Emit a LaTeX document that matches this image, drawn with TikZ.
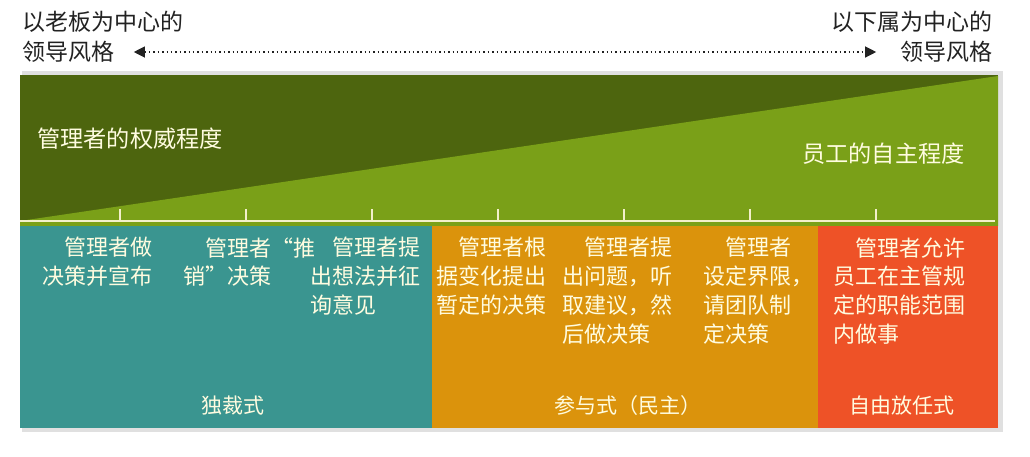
\documentclass[tikz,border=0pt]{standalone}
\usepackage{fontspec}
\newfontfamily\cjk{Noto Sans CJK SC}
\usetikzlibrary{arrows.meta,positioning}
\definecolor{DarkGreen}{HTML}{4D650E}
\definecolor{LightGreen}{HTML}{7AA018}
\definecolor{Teal}{HTML}{3A9590}
\definecolor{Orange}{HTML}{DB930C}
\definecolor{Red}{HTML}{EE5227}
\definecolor{Cream}{HTML}{FFFCE0}
\definecolor{Rule}{HTML}{F3F0CA}
\definecolor{Ink}{HTML}{222222}

\begin{document}
\begin{tikzpicture}[x=0.5pt,y=-0.5pt,
    title/.style={inner sep=0pt,text=Ink,font=\cjk\fontsize{11.5}{14}\selectfont},
    bandtext/.style={inner sep=0pt,text=Cream,font=\cjk\fontsize{11.6}{14}\selectfont},
    desc/.style={anchor=north west,inner sep=0pt,align=left,text=Cream,font=\cjk\fontsize{11}{14.4}\selectfont},
    kind/.style={inner sep=0pt,text=Cream,font=\cjk\fontsize{10.5}{14}\selectfont},
    tick/.style={draw=Rule,line width=1pt}]
      \useasboundingbox (0,0) rectangle (1030,456);
      \fill[white] (0,0) rectangle (1030,456);
      \fill[black!12] (22,71) rectangle (1003,432);
      \fill[DarkGreen] (20,75) rectangle (998,226);
      \fill[LightGreen] (20,221) -- (998,76) -- (998,226) -- (20,226) -- cycle;
      \foreach \a/\b/\col in {20/432/Teal, 432/818/Orange, 818/998/Red}
        \fill[\col] (\a,226) rectangle (\b,428);
      \draw[tick,line width=1.2pt] (20,221) -- (995,221);
      \foreach \x in {120,246,372,498,624,750,876}
        \draw[tick] (\x,209) -- (\x,221);
      \node[title,anchor=west] (ltop) at (22,22) {以老板为中心的};
      \node[title,anchor=west] (lbot) at (22,52) {领导风格};
      \node[title,anchor=east] (rtop) at (993,22) {以下属为中心的};
      \node[title,anchor=east] (rbot) at (993,52) {领导风格};
      \draw[Ink,line width=0.6pt,dash pattern=on 0.7pt off 1.5pt,
        {Triangle[length=5.5pt,width=5.5pt,sep=0pt]}-{Triangle[length=5.5pt,width=5.5pt]},
        shorten <=9.5pt,shorten >=12pt] (lbot) -- (rbot);
      \node[bandtext,anchor=west] (boss) at (37,139) {管理者的权威程度};
      \node[bandtext,anchor=east] (staff) at (965,154) {员工的自主程度};
      \foreach \n/\x/\txt in {
        a/42/{\quad 管理者做\\决策并宣布},
        b/183/{\quad 管理者“推\\销”决策},
        c/310/{\quad 管理者提\\出想法并征\\询意见},
        d/436/{\quad 管理者根\\据变化提出\\暂定的决策},
        e/562/{\quad 管理者提\\出问题，听\\取建议，然\\后做决策},
        f/703/{\quad 管理者\\设定界限，\\请团队制\\定决策},
        g/833/{\quad 管理者允许\\员工在主管规\\定的职能范围\\内做事}}
        \node[desc] (col\n) at (\x,237) {\txt};
      \node[kind] (autocratic) at (233,406) {独裁式};
      \node[kind] (democratic) at (628,406) {参与式（民主）};
      \node[kind] (laissez) at (902,406) {自由放任式};
    \end{tikzpicture}
\end{document}
